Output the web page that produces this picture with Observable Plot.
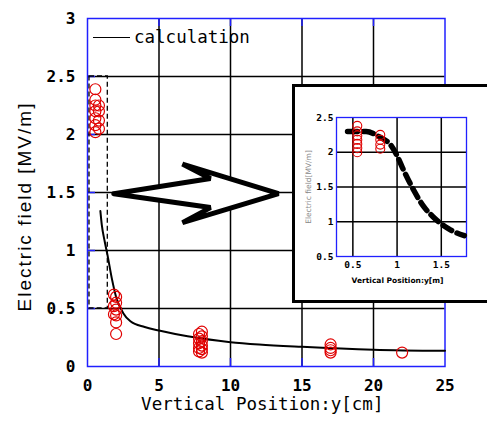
<!DOCTYPE html>
<html><head><meta charset="utf-8">
<script src="https://cdn.jsdelivr.net/npm/d3@7"></script>
<script src="https://cdn.jsdelivr.net/npm/@observablehq/plot@0.6"></script>
<style>
html,body{margin:0;padding:0;background:#fff;width:487px;height:425px;overflow:hidden;}
#wrap{position:relative;width:487px;height:425px;}
#inset{position:absolute;left:292px;top:84px;width:205px;height:219px;box-sizing:border-box;border:3px solid #000;background:#fff;}
#inset svg{position:absolute;left:0;top:0;}
#legend{position:absolute;left:93px;top:27px;font:17.5px "DejaVu Sans Mono",monospace;color:#000;display:flex;align-items:center;}
#legend span.l{display:inline-block;width:37px;border-top:1.5px solid #000;margin-right:4px;}
</style>
</head><body><div id="wrap"><div id="legend"><span class="l"></span><span>calculation</span></div><div id="inset"></div></div>
<script>
// ---- main chart data ----
const xTicks = [0, 5, 10, 15, 20, 25];
const yTicks = [0, 0.5, 1, 1.5, 2, 2.5, 3];
const yTickLabels = ["0", "0.5", "1", "1.5", "2", "2.5", "3"];
const calcX = [0.9, 1.0, 1.2, 1.4, 1.7, 2.0, 2.5, 3, 4, 5, 7, 10, 12, 15, 20, 25];
const calcY = [1.34, 1.22, 1.08, 0.96, 0.76, 0.60, 0.46, 0.39, 0.34, 0.31, 0.26, 0.21, 0.19, 0.17, 0.145, 0.135];
const measX = [0.55,0.55,0.55,0.55,0.55,0.55,0.55, 0.8,0.8,0.8,0.8,
               1.85,1.85,1.85, 2.0,2.0,2.0,2.0,2.0,2.0,
               7.8,7.8,7.8,7.8,7.8, 8.0,8.0,8.0,8.0,8.0,8.0,
               17,17,17,17, 22];
const measY = [2.39,2.30,2.25,2.20,2.14,2.08,2.02, 2.25,2.20,2.12,2.05,
               0.62,0.52,0.45, 0.60,0.55,0.49,0.44,0.38,0.28,
               0.28,0.24,0.20,0.16,0.13, 0.30,0.26,0.22,0.18,0.15,0.12,
               0.19,0.16,0.14,0.12, 0.12];
const zoomBox = {x1: 0.14, x2: 1.42, y1: 0.5, y2: 2.5};
const arrowX = [1.84, 8.6, 6.64, 13.36, 6.64, 8.6, 1.84];
const arrowY = [1.49, 1.62, 1.745, 1.49, 1.24, 1.37, 1.49];
const xLabel = "Vertical Position:y[cm]";
const yLabel = "Electric field [MV/m]";

// ---- inset data ----
const insXTicks = [0.5, 1, 1.5];
const insYTicks = [0.5, 1, 1.5, 2, 2.5];
const insCalcX = [0.44, 0.65, 0.8, 0.93, 1.0, 1.06, 1.19, 1.3, 1.4, 1.58, 1.76];
const insCalcY = [2.30, 2.30, 2.22, 2.10, 1.95, 1.78, 1.45, 1.22, 1.08, 0.90, 0.80];
const insMeasX = [0.55,0.55,0.55,0.55,0.55,0.55,0.55, 0.81,0.81,0.81,0.81];
const insMeasY = [2.38,2.30,2.24,2.18,2.12,2.06,2.00, 2.25,2.18,2.11,2.05];
const insXLabel = "Vertical Position:y[m]";
const insYLabel = "Electric field[MV/m]";

const BLUE = "#2020ff", RED = "#e00000";
const calc = calcX.map((x, i) => ({x, y: calcY[i]}));
const meas = measX.map((x, i) => ({x, y: measY[i]}));
const arrow = arrowX.map((x, i) => ({x, y: arrowY[i]}));
const W = 487, H = 425, mL = 87, mR = 42.5, mT = 18, mB = 59;
const pW = W - mL - mR, pH = H - mT - mB;

const main = Plot.plot({
  width: W, height: H, marginLeft: mL, marginRight: mR, marginTop: mT, marginBottom: mB,
  style: {background: "#fff", color: "#000"},
  x: {domain: [0, 25]},
  y: {domain: [0, 3]},
  marks: [
    Plot.ruleX(xTicks.slice(1, -1), {stroke: "#000", strokeWidth: 1.5}),
    Plot.ruleY(yTicks.slice(1, -1), {stroke: "#000", strokeWidth: 1.5}),
    Plot.ruleX(xTicks.slice(1, -1), {stroke: BLUE, strokeWidth: 1.5, insetTop: pH - 8}),
    Plot.ruleX(xTicks.slice(1, -1), {stroke: BLUE, strokeWidth: 1.5, insetBottom: pH - 8}),
    Plot.ruleY(yTicks.slice(1, -1), {stroke: BLUE, strokeWidth: 1.5, insetRight: pW - 8}),
    Plot.frame({stroke: BLUE, strokeWidth: 1.5}),
    Plot.rect([zoomBox], {x1: "x1", x2: "x2", y1: "y1", y2: "y2", fill: "none", stroke: "#000", strokeWidth: 1.3, strokeDasharray: "5,3"}),
    Plot.line(arrow, {x: "x", y: "y", fill: "#fff", stroke: "#000", strokeWidth: 5, strokeLinejoin: "miter"}),
    Plot.line(calc, {x: "x", y: "y", stroke: "#000", strokeWidth: 2, curve: "monotone-x"}),
    Plot.dot(meas, {x: "x", y: "y", r: 5.5, stroke: RED, strokeWidth: 1.2, fill: "none"}),
    Plot.axisX(xTicks, {tickSize: 0, tickPadding: 13, fontSize: 16, fontWeight: "bold", fontFamily: "DejaVu Sans Mono", tickFormat: d => String(d), label: null}),
    Plot.axisY(yTicks, {tickSize: 0, tickPadding: 12, fontSize: 16, fontWeight: "bold", fontFamily: "DejaVu Sans Mono", tickFormat: (d, i) => yTickLabels[i], label: null}),
    Plot.text([xLabel], {frameAnchor: "bottom", dy: 43, dx: -4, fontSize: 17.5, fontFamily: "DejaVu Sans Mono", fill: "#000"}),
    Plot.text([yLabel], {frameAnchor: "left", textAnchor: "middle", dx: -63, dy: 14, rotate: -90, fontSize: 19, fontFamily: "Liberation Sans", fill: "#000"})
  ]
});
main.querySelectorAll("text").forEach(t => { if (t.textContent === yLabel) t.style.letterSpacing = "2px"; });
document.getElementById("wrap").prepend(main);

// ---- inset ----
const iW = 198, iH = 212, iL = 41, iT = 30, iR = 198 - 41 - 130, iB = 212 - 30 - 139;
const insCalc = insCalcX.map((x, i) => ({x, y: insCalcY[i]}));
const insMeas = insMeasX.map((x, i) => ({x, y: insMeasY[i]}));
const inset = Plot.plot({
  width: iW, height: iH, marginLeft: iL, marginRight: iR, marginTop: iT, marginBottom: iB,
  style: {background: "transparent", color: "#000", overflow: "visible"},
  x: {domain: [0.315, 1.785]},
  y: {domain: [0.5, 2.5]},
  marks: [
    Plot.ruleX(insXTicks, {stroke: "#000", strokeWidth: 1.5}),
    Plot.ruleY(insYTicks.slice(1, -1), {stroke: "#000", strokeWidth: 1.5}),
    Plot.frame({stroke: BLUE, strokeWidth: 1.3}),
    Plot.line(insCalc, {x: "x", y: "y", stroke: "#000", strokeWidth: 5.5, strokeDasharray: "10,6", curve: "monotone-x"}),
    Plot.dot(insMeas, {x: "x", y: "y", r: 4.5, stroke: RED, strokeWidth: 1.1, fill: "none"}),
    Plot.axisX(insXTicks, {tickSize: 0, tickPadding: 5, fontSize: 9.5, fontWeight: "bold", fontFamily: "DejaVu Sans Mono", tickFormat: d => String(d), label: null}),
    Plot.axisY(insYTicks, {tickSize: 0, tickPadding: 3, fontSize: 9.5, fontWeight: "bold", fontFamily: "DejaVu Sans Mono", tickFormat: d => String(d), label: null}),
    Plot.text([insXLabel], {frameAnchor: "bottom", dy: 26, dx: -4, fontSize: 7.5, fontWeight: "bold", fontFamily: "DejaVu Sans", fill: "#000"}),
    Plot.text([insYLabel], {frameAnchor: "left", textAnchor: "middle", dx: -28, rotate: -90, fontSize: 7.5, fontFamily: "DejaVu Sans", fill: "#888"})
  ]
});
document.getElementById("inset").appendChild(inset);
</script>
</body></html>
